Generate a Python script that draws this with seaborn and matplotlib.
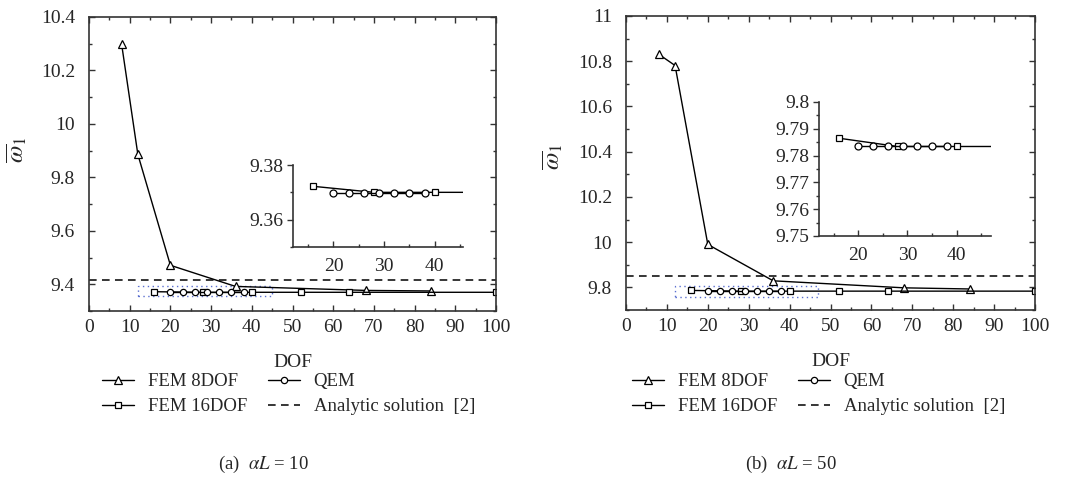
import numpy as np
import pandas as pd
import matplotlib
matplotlib.use("Agg")
import matplotlib.pyplot as plt
import matplotlib.ticker as mticker
from matplotlib.patches import Rectangle
import seaborn as sns

# ---- data (two panels: alpha L = 10 and alpha L = 50)
dof_fem8 = [8, 12, 20, 36, 68, 84]
dof_fem16 = [16, 28, 40, 52, 64, 100]
dof_qem = [20, 23, 26, 29, 32, 35, 38]

fem8_a = [10.300, 9.886, 9.471, 9.392, 9.377, 9.375]
fem16_a = [9.3722, 9.3700, 9.3700, 9.3700, 9.3700, 9.3700]
qem_a = [9.3697, 9.3697, 9.3697, 9.3697, 9.3697, 9.3697, 9.3697]
analytic_a = 9.416

fem8_b = [10.831, 10.781, 9.990, 9.829, 9.798, 9.793]
fem16_b = [9.7865, 9.7834, 9.7834, 9.7834, 9.7834, 9.7834]
qem_b = [9.7834, 9.7834, 9.7834, 9.7834, 9.7834, 9.7834, 9.7834]
analytic_b = 9.852

# zoom region marked by the blue dotted box (x0, x1, y0, y1)
zoom_box_a = (12, 45, 9.356, 9.395)
zoom_box_b = (12, 47, 9.757, 9.807)

panels = [
    dict(fem8=fem8_a, fem16=fem16_a, qem=qem_a, ana=analytic_a, box=zoom_box_a,
         ylim=(9.3, 10.4), ymaj=0.2, ymin=0.1,
         ins_xlim=(12, 45.6), ins_ylim=(9.35, 9.38), ins_ymaj=0.02, ins_ymin=0.01,
         caption="(a)  $\\alpha L$ = 10", cap_x=263,
         rect=[89, 311, 407, 294], ins_rect=[293, 247, 170, 82], leg_x=102,
         ylab=(-0.147, 0.55)),
    dict(fem8=fem8_b, fem16=fem16_b, qem=qem_b, ana=analytic_b, box=zoom_box_b,
         ylim=(9.7, 11.0), ymaj=0.2, ymin=0.1,
         ins_xlim=(12, 47), ins_ylim=(9.75, 9.80), ins_ymaj=0.01, ins_ymin=0.005,
         caption="(b)  $\\alpha L$ = 50", cap_x=791,
         rect=[626, 310, 409, 294], ins_rect=[819, 236, 172, 134], leg_x=632,
         ylab=(-0.148, 0.52)),
]

sns.set_style("ticks")
plt.rcParams["font.family"] = ["Liberation Serif", "DejaVu Serif"]
plt.rcParams["mathtext.fontset"] = "stix"
plt.rcParams["font.size"] = 14

W, H = 1065, 488
fig = plt.figure(figsize=(W / 100, H / 100), dpi=100)


def fig_rect(r):
    x, ybot, w, h = r
    return [x / W, 1 - ybot / H, w / W, h / H]


def draw_series(ax, p, ms_scale=1.0):
    d8 = pd.DataFrame({"DOF": dof_fem8, "w": p["fem8"]})
    d16 = pd.DataFrame({"DOF": dof_fem16, "w": p["fem16"]})
    dq = pd.DataFrame({"DOF": dof_qem, "w": p["qem"]})
    kw = dict(color="black", linewidth=1.0, markerfacecolor="white",
              markeredgecolor="black", markeredgewidth=0.9, ax=ax)
    sns.lineplot(data=d8, x="DOF", y="w", marker="^", markersize=7 * ms_scale,
                 label="FEM 8DOF", **kw)
    sns.lineplot(data=d16, x="DOF", y="w", marker="s", markersize=4.5 * ms_scale,
                 label="FEM 16DOF", **kw)
    sns.lineplot(data=dq, x="DOF", y="w", marker="o", markersize=5 * ms_scale,
                 label="QEM", **kw)


fmt = mticker.FuncFormatter(lambda v, pos: "%g" % round(v, 4))

for p in panels:
    ax = fig.add_axes(fig_rect(p["rect"]))
    draw_series(ax, p, 0.9)
    ax.axhline(p["ana"], color="black", linestyle=(0, (5, 3.5)), linewidth=1.1,
               label="Analytic solution  [2]")
    x0, x1, y0, y1 = p["box"]
    ax.add_patch(Rectangle((x0, y0), x1 - x0, y1 - y0, fill=False,
                           edgecolor="#5a6fd0", linestyle=(0, (1, 2.5)), linewidth=1.0))
    ax.set_xlim(0, 100)
    ax.set_ylim(*p["ylim"])
    ax.xaxis.set_major_locator(mticker.MultipleLocator(10))
    ax.xaxis.set_minor_locator(mticker.MultipleLocator(5))
    ax.yaxis.set_major_locator(mticker.MultipleLocator(p["ymaj"]))
    ax.yaxis.set_minor_locator(mticker.MultipleLocator(p["ymin"]))
    ax.yaxis.set_major_formatter(fmt)
    ax.tick_params(which="both", direction="in", top=True, right=True, color="#333333")
    ax.tick_params(which="major", length=4.5, width=1.0)
    ax.tick_params(which="minor", length=2.5, width=1.0)
    ax.tick_params(axis="x", which="major", pad=6)
    ax.tick_params(axis="y", which="major", pad=10)
    for s in ax.spines.values():
        s.set_linewidth(1.2)
        s.set_color("#333333")
    ax.set_xlabel("DOF", labelpad=13)
    ax.set_ylabel(r"$\overline{\omega}_1$", fontsize=18)
    ax.yaxis.set_label_coords(*p["ylab"])

    handles, labels = ax.get_legend_handles_labels()
    hmap = dict(zip(labels, handles))
    order = ["FEM 8DOF", "FEM 16DOF", "QEM", "Analytic solution  [2]"]
    ax.get_legend().remove()
    fig.legend([hmap[k] for k in order], order, ncol=2, frameon=False,
               loc="upper left", bbox_to_anchor=(p["leg_x"] / W, 1 - 373 / H),
               handlelength=1.7, handletextpad=0.75, columnspacing=1.1,
               labelspacing=0.42, borderpad=0, borderaxespad=0, fontsize=13.5)

    fig.text(p["cap_x"] / W, 1 - 464 / H, p["caption"], ha="center", va="center",
             fontsize=13.5)

    # inset
    ins = fig.add_axes(fig_rect(p["ins_rect"]))
    ins.set_facecolor("white")
    draw_series(ins, p, 1.0)
    ins.get_legend().remove()
    ins.set_xlim(*p["ins_xlim"])
    ins.set_ylim(*p["ins_ylim"])
    ins.set_xlabel("")
    ins.set_ylabel("")
    ins.xaxis.set_major_locator(mticker.MultipleLocator(10))
    ins.xaxis.set_minor_locator(mticker.MultipleLocator(5))
    ins.yaxis.set_major_locator(mticker.MultipleLocator(p["ins_ymaj"]))
    ins.yaxis.set_minor_locator(mticker.MultipleLocator(p["ins_ymin"]))
    ins.yaxis.set_major_formatter(fmt)
    ins.spines["top"].set_visible(False)
    ins.spines["right"].set_visible(False)
    for s in ["left", "bottom"]:
        ins.spines[s].set_linewidth(1.2)
        ins.spines[s].set_color("#333333")
    ins.tick_params(axis="x", which="both", direction="in", color="#333333", pad=8)
    ins.tick_params(axis="y", which="both", direction="out", color="#333333", pad=3)
    ins.tick_params(which="major", length=4, width=1.0)
    ins.tick_params(which="minor", length=2.5, width=1.0)

fig.savefig("out.png", dpi=100)
